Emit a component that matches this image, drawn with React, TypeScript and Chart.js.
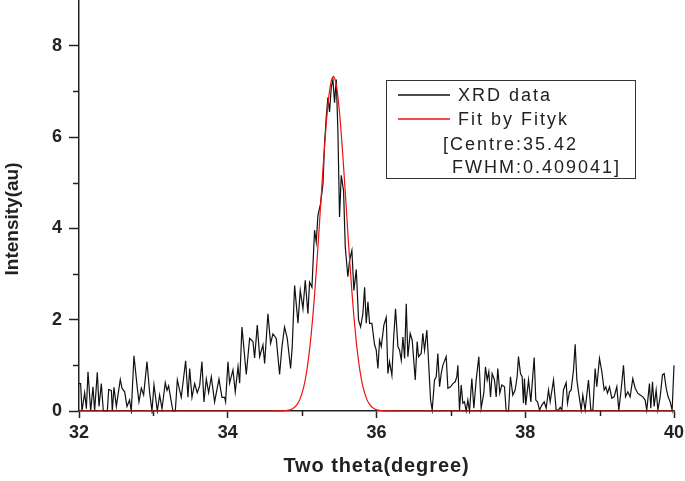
import React, { useEffect, useRef } from 'react';
import { Chart, registerables } from 'chart.js';

Chart.register(...registerables);

// XRD scan: two-theta (degree) and intensity (au)
const xrdTheta = [
  32.0, 32.022, 32.04, 32.076, 32.099, 32.121, 32.157, 32.188, 32.21, 32.246, 32.269, 32.3, 32.327, 32.381,
  32.399, 32.435, 32.448, 32.47, 32.502, 32.555, 32.578, 32.614, 32.645, 32.68, 32.703, 32.739, 32.784,
  32.806, 32.838, 32.869, 32.914, 32.95, 32.981, 33.008, 33.053, 33.084, 33.116, 33.16, 33.183, 33.205,
  33.241, 33.263, 33.295, 33.322, 33.375, 33.434, 33.465, 33.488, 33.519, 33.555, 33.59, 33.622, 33.653,
  33.68, 33.712, 33.743, 33.779, 33.823, 33.882, 33.922, 33.958, 33.971,
  34.003, 34.025, 34.07, 34.101, 34.138, 34.16, 34.191, 34.249, 34.294, 34.339, 34.361, 34.397, 34.429,
  34.473, 34.496, 34.54, 34.576, 34.608, 34.652, 34.697, 34.729, 34.764, 34.8, 34.845, 34.867, 34.899,
  34.944, 34.975, 35.011, 35.042, 35.078, 35.1, 35.132, 35.167, 35.19, 35.212, 35.248, 35.28, 35.302,
  35.324, 35.347, 35.369, 35.392, 35.414, 35.436, 35.459, 35.481, 35.503, 35.526, 35.557, 35.58, 35.615,
  35.638, 35.669, 35.696, 35.728, 35.759, 35.786, 35.817, 35.84, 35.862, 35.885, 35.907, 35.938, 35.974,
  35.996,
  36.019, 36.041, 36.064, 36.099, 36.131, 36.153, 36.175, 36.207, 36.229, 36.256, 36.288, 36.31, 36.333,
  36.355, 36.378, 36.4, 36.422, 36.453, 36.48, 36.521, 36.547, 36.565, 36.601, 36.623, 36.646, 36.677,
  36.7, 36.727, 36.749, 36.78, 36.803, 36.825, 36.848, 36.87, 36.892, 36.937, 36.96, 36.995, 37.027,
  37.058, 37.08, 37.094, 37.116, 37.139, 37.161, 37.183, 37.206, 37.228, 37.251, 37.282, 37.309, 37.34,
  37.376, 37.407, 37.443, 37.465, 37.488, 37.51, 37.533, 37.555, 37.586, 37.609, 37.631, 37.658, 37.685,
  37.721, 37.743, 37.775, 37.801, 37.833, 37.864, 37.891, 37.909, 37.936, 37.958, 37.976, 37.989, 38.007,
  38.044, 38.075, 38.12, 38.142, 38.165, 38.192, 38.223, 38.255, 38.281, 38.313, 38.335, 38.38, 38.416,
  38.447, 38.47, 38.492, 38.514, 38.55, 38.568, 38.595, 38.617, 38.649, 38.671, 38.694, 38.716, 38.752,
  38.774, 38.805, 38.85, 38.882, 38.909, 38.94, 38.962, 38.998, 39.03, 39.061, 39.083, 39.106, 39.133,
  39.164, 39.195, 39.231, 39.258, 39.289, 39.321, 39.348, 39.379, 39.41, 39.446, 39.478, 39.513, 39.545,
  39.581, 39.612, 39.634, 39.67, 39.688, 39.711, 39.733, 39.76, 39.783, 39.814, 39.845, 39.868, 39.895,
  39.921, 39.948, 39.975, 40.0,
];

const xrdIntensity = [
  0.6, 0.6, 0.0, 0.4, 0.05, 0.86, 0.0, 0.53, 0.0, 0.85, 0.1, 0.6, 0.0, 0.0,
  0.47, 0.45, 0.0, 0.52, 0.1, 0.69, 0.5, 0.42, 0.1, 0.24, 0.0, 1.21, 0.5,
  0.2, 0.5, 0.35, 1.08, 0.4, 0.0, 0.57, 0.0, 0.35, 0.05, 0.62, 0.45, 0.55,
  0.2, 0.0, 0.0, 0.68, 0.3, 1.1, 0.3, 0.93, 0.3, 0.6, 0.4, 0.55, 1.08,
  0.2, 0.7, 0.4, 0.75, 0.2, 0.7, 0.3, 0.3, 0.2,
  1.08, 0.61, 0.9, 0.42, 0.97, 0.61, 1.84, 0.8, 1.59, 1.52, 1.16, 1.88, 1.19,
  1.45, 1.04, 2.13, 1.48, 1.69, 1.59, 0.8, 1.41, 1.84, 1.59, 0.93, 1.41, 2.75,
  1.92, 2.64, 2.24, 2.86, 2.13, 2.82, 2.71, 3.96, 3.7, 4.28, 4.54, 4.98, 5.85,
  6.43, 6.87, 6.55, 7.09, 7.26, 6.75, 7.26, 6.14, 4.25, 5.16, 4.83, 3.59, 2.94,
  3.3, 3.52, 2.64, 3.1, 1.99, 1.84, 2.13, 2.71, 1.92, 2.39, 1.92, 1.92, 1.45,
  1.34,
  0.93, 1.55, 1.41, 1.88, 2.05, 0.82, 1.08, 0.78, 1.55, 2.24, 1.41, 1.33, 1.11,
  1.62, 1.15, 2.35, 1.19, 1.7, 1.55, 0.68, 1.52, 1.19, 1.26, 1.7, 1.33, 1.77,
  1.08, 0.24, 0.02, 0.68, 0.75, 1.26, 0.53, 0.82, 1.0, 1.19, 0.5, 0.53, 0.6,
  0.64, 0.75, 1.0, 0.02, 0.57, 0.17, 0.2, 0.0, 0.24, 0.0, 0.71, 0.06, 0.68,
  1.19, 0.06, 0.39, 0.97, 0.68, 0.86, 0.31, 0.82, 0.68, 0.31, 0.93, 0.39, 0.57,
  0.53, 0.0, 0.0, 0.75, 0.35, 0.46, 0.75, 1.19, 0.82, 0.75, 0.17, 0.71, 0.13,
  0.68, 0.2, 1.17, 0.24, 0.2, 0.02, 0.13, 0.2, 0.06, 0.46, 0.2, 0.68, 0.02,
  0.02, 0.08, 0.02, 0.46, 0.62, 0.17, 0.42, 0.46, 0.9, 1.46, 0.68, 0.42, 0.02,
  0.35, 0.02, 0.68, 0.02, 0.02, 0.93, 0.53, 1.15, 0.86, 0.46, 0.53, 0.39, 0.53,
  0.28, 0.31, 0.53, 0.02, 0.46, 1.0, 0.31, 0.42, 0.31, 0.71, 0.5, 0.39, 0.35,
  0.31, 0.24, 0.02, 0.6, 0.06, 0.64, 0.1, 0.46, 0.02, 0.31, 0.79, 0.82, 0.5,
  0.31, 0.2, 0.02, 1.0,
];

// Fitted peak (Fityk), sampled values
const fitTheta = [
  32.0, 34.5, 34.72, 34.77, 34.82, 34.87, 34.92, 34.97, 35.02, 35.045, 35.07, 35.095, 35.12, 35.145,
  35.17, 35.195, 35.22, 35.245, 35.27, 35.295, 35.32, 35.345, 35.37, 35.395, 35.42, 35.445, 35.47,
  35.495, 35.52, 35.545, 35.57, 35.595, 35.62, 35.645, 35.67, 35.695, 35.72, 35.745, 35.77, 35.795,
  35.82, 35.87, 35.92, 35.97, 36.02, 36.07, 36.12, 36.34, 40.0,
];
const fitIntensity = [
  0, 0, 0.002, 0.007, 0.019, 0.049, 0.116, 0.255, 0.516, 0.712, 0.961, 1.271, 1.647, 2.09,
  2.598, 3.163, 3.772, 4.407, 5.041, 5.65, 6.202, 6.669, 7.023, 7.245, 7.32, 7.245, 7.023,
  6.669, 6.202, 5.65, 5.041, 4.407, 3.772, 3.163, 2.598, 2.09, 1.647, 1.271, 0.961, 0.712,
  0.516, 0.255, 0.116, 0.049, 0.019, 0.007, 0.002, 0, 0,
];

const seriesNames = ['XRD data', 'Fit by Fityk'];
const fitNote = ['[Centre:35.42', 'FWHM:0.409041]'];
const xMinorTicks = [33, 35, 37, 39];
const yMinorTicks = [1, 3, 5, 7];
const xTitle = 'Two theta(degree)';
const yTitle = 'Intensity(au)';

const FONT = '"Liberation Sans", Arial, Helvetica, sans-serif';
const INK = '#222222';

const decorPlugin = {
  id: 'decor',
  afterDraw(chart: any) {
    const ctx = chart.ctx as CanvasRenderingContext2D;
    const xs = chart.scales.x;
    const ys = chart.scales.y;
    const { left, right, bottom } = chart.chartArea;
    ctx.save();
    // minor ticks
    ctx.strokeStyle = INK;
    ctx.lineWidth = 1.5;
    xMinorTicks.forEach((v) => {
      const p = Math.round(xs.getPixelForValue(v)) + 0.5;
      ctx.beginPath();
      ctx.moveTo(p, bottom);
      ctx.lineTo(p, bottom + 5);
      ctx.stroke();
    });
    yMinorTicks.forEach((v) => {
      const p = Math.round(ys.getPixelForValue(v)) + 0.5;
      ctx.beginPath();
      ctx.moveTo(left, p);
      ctx.lineTo(left - 6, p);
      ctx.stroke();
    });
    // axis titles
    ctx.fillStyle = INK;
    ctx.textAlign = 'center';
    ctx.textBaseline = 'middle';
    ctx.font = `bold 20px ${FONT}`;
    (ctx as any).letterSpacing = '0.9px';
    ctx.fillText(xTitle, (left + right) / 2, 466);
    ctx.save();
    ctx.translate(13, 219);
    ctx.rotate(-Math.PI / 2);
    ctx.font = `bold 19px ${FONT}`;
    (ctx as any).letterSpacing = '0px';
    ctx.fillText(yTitle, 0, 0);
    ctx.restore();

    // legend box
    const bx = 386.5, by = 80.5, bw = 249, bh = 98;
    ctx.lineWidth = 1;
    ctx.strokeStyle = '#333333';
    ctx.strokeRect(bx, by, bw, bh);
    const ds = chart.data.datasets;
    const rows = [95, 119];
    ctx.font = `18px ${FONT}`;
    (ctx as any).letterSpacing = '2px';
    ctx.textAlign = 'left';
    rows.forEach((y, i) => {
      ctx.strokeStyle = ds[i].borderColor;
      ctx.lineWidth = 1.3;
      ctx.beginPath();
      ctx.moveTo(398, y);
      ctx.lineTo(450, y);
      ctx.stroke();
      ctx.fillStyle = INK;
      ctx.fillText(seriesNames[i], 458, y + 1);
    });
    ctx.fillText(fitNote[0], 443, 145);
    ctx.fillText(fitNote[1], 452, 168);
    ctx.restore();
  },
};

export default function App() {
  const ref = useRef<HTMLCanvasElement | null>(null);

  useEffect(() => {
    if (!ref.current) return;
    const chart = new Chart(ref.current, {
      type: 'line',
      data: {
        datasets: [
          {
            label: seriesNames[0],
            data: xrdTheta.map((x, i) => ({ x, y: xrdIntensity[i] })),
            borderColor: '#111111',
            borderWidth: 1.2,
            pointRadius: 0,
            tension: 0,
            fill: false,
            order: 1,
            clip: 3,
          },
          {
            label: seriesNames[1],
            data: fitTheta.map((x, i) => ({ x, y: fitIntensity[i] })),
            borderColor: '#f01010',
            borderWidth: 1.2,
            pointRadius: 0,
            cubicInterpolationMode: 'monotone',
            fill: false,
            order: 0,
            clip: 3,
          },
        ],
      },
      options: {
        responsive: false,
        animation: false,
        layout: { padding: { top: 0, right: 11, left: 0, bottom: 0 } },
        plugins: { legend: { display: false }, tooltip: { enabled: false } },
        scales: {
          x: {
            type: 'linear',
            min: 32,
            max: 40,
            afterFit: (s: any) => {
              s.height = 70;
              s.paddingLeft = 0;
              s.paddingRight = 0;
            },
            ticks: {
              stepSize: 2,
              autoSkip: false,
              maxRotation: 0,
              padding: 4,
              color: INK,
              font: { family: FONT, size: 18, weight: 'bold' },
            },
            grid: { drawOnChartArea: false, drawTicks: true, tickLength: 7, tickWidth: 1.5, tickColor: INK },
            border: { display: true, color: INK, width: 1.5 },
          },
          y: {
            type: 'linear',
            min: 0,
            max: 9,
            afterFit: (s: any) => {
              s.width = 79;
              s.paddingTop = 0;
              s.paddingBottom = 0;
            },
            afterBuildTicks: (s: any) => {
              s.ticks = s.ticks.filter((t: any) => t.value % 2 === 0 && t.value <= 8);
            },
            ticks: {
              stepSize: 2,
              padding: 7,
              color: INK,
              font: { family: FONT, size: 18, weight: 'bold' },
            },
            grid: { drawOnChartArea: false, drawTicks: true, tickLength: 10, tickWidth: 1.5, tickColor: INK },
            border: { display: true, color: INK, width: 1.5 },
          },
        },
      },
      plugins: [decorPlugin],
    });
    return () => chart.destroy();
  }, []);

  return (
    <div style={{ position: 'absolute', left: 0, top: 0, width: 685, height: 481, background: '#fff' }}>
      <canvas ref={ref} width={685} height={481} style={{ display: 'block' }} />
    </div>
  );
}
